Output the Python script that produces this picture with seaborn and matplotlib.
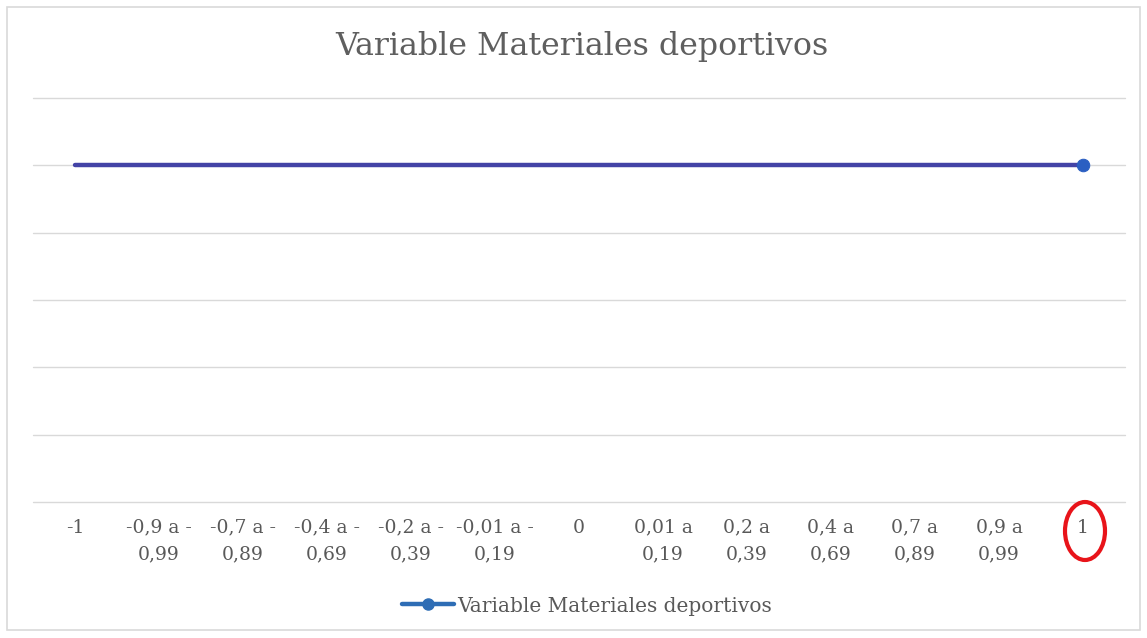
import matplotlib
matplotlib.use("Agg")
import matplotlib.pyplot as plt
from matplotlib.patches import Ellipse, Rectangle
from matplotlib.lines import Line2D
import seaborn as sns
import pandas as pd

categories = ["-1", "-0,9 a -\n0,99", "-0,7 a -\n0,89", "-0,4 a -\n0,69", "-0,2 a -\n0,39",
              "-0,01 a -\n0,19", "0", "0,01 a\n0,19", "0,2 a\n0,39", "0,4 a\n0,69",
              "0,7 a\n0,89", "0,9 a\n0,99", "1"]
values = [1, 1, 1, 1, 1, 1, 1, 1, 1, 1, 1, 1, 1]
series_name = "Variable Materiales deportivos"
y_ticks = [0, 0.2, 0.4, 0.6, 0.8, 1.0, 1.2]

sns.set_theme(style="white")
plt.rcParams["font.family"] = ["DejaVu Serif", "Liberation Serif"]

df = pd.DataFrame({"pos": list(range(len(categories))), "value": values})

fig = plt.figure(figsize=(11.47, 6.38), dpi=100)
ax = fig.add_axes([0.0288, 0.2132, 0.952, 0.6332])

line_color = "#4343a6"
marker_color = "#2b5fc2"
sns.lineplot(data=df, x="pos", y="value", ax=ax, color=line_color, linewidth=3.2,
             marker="o", markevery=[len(values) - 1], markersize=9,
             markerfacecolor=marker_color, markeredgecolor=marker_color, zorder=3)

ax.set_xlim(-0.5, len(categories) - 0.5)
ax.set_ylim(y_ticks[0], y_ticks[-1])
ax.set_yticks(y_ticks)
ax.yaxis.grid(True, color="#d9d9d9", linewidth=1.0)
for gl in ax.get_ygridlines():
    gl.set_clip_on(False)
ax.set_yticklabels([])
ax.tick_params(axis="y", length=0)
ax.set_xticks(range(len(categories)))
ax.set_xticklabels(categories, fontsize=13.5, color="#595959", linespacing=1.65)
ax.tick_params(axis="x", length=0, pad=12)
ax.set_xlabel("")
ax.set_ylabel("")
for s in ax.spines.values():
    s.set_visible(False)

fig.text(582 / 1147, 1 - 47 / 638, "Variable Materiales deportivos", ha="center", va="center",
         fontsize=22.8, color="#5f5f5f")

# red circle around the last category label
fig.patches.append(Ellipse((1085 / 1147, 1 - 531 / 638), 40 / 1147, 58 / 638,
                           transform=fig.transFigure, fill=False, edgecolor="#e8141a",
                           linewidth=3, figure=fig))

# outer frame
fig.patches.append(Rectangle((7 / 1147, 8 / 638), 1133 / 1147, 623 / 638,
                             transform=fig.transFigure, fill=False, edgecolor="#d9d9d9",
                             linewidth=1.2, figure=fig))

handle = Line2D([], [], color="#2e6db5", linewidth=3.2, marker="o", markersize=8,
                markerfacecolor="#2e6db5", markeredgecolor="#2e6db5")
fig.legend([handle], [series_name], loc="center", bbox_to_anchor=(587 / 1147, 1 - 606 / 638),
           frameon=False, fontsize=14.5, labelcolor="#595959", handlelength=2.6, handletextpad=0.15)

fig.savefig("out.png", dpi=100)
